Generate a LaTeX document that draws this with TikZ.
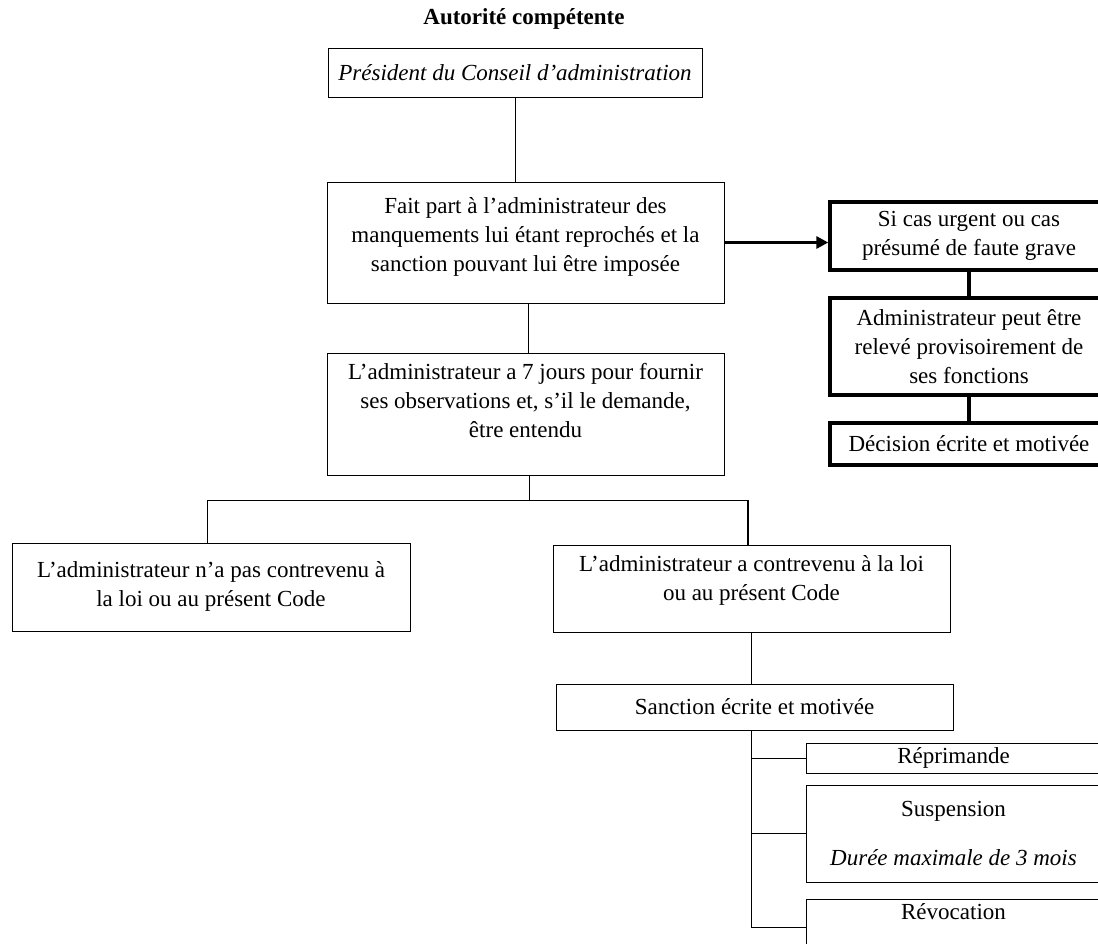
\documentclass[tikz,border=0pt]{standalone}
\usepackage{fontspec}
\setmainfont{Liberation Serif}
\usetikzlibrary{arrows.meta}
\tikzset{
  txt/.style={font=\fontsize{23}{29}\selectfont, align=center, inner sep=0pt},
  box/.style={draw, line width=1pt, inner sep=0pt, txt},
  tbox/.style={draw, line width=3.4pt, inner sep=0pt, txt},
  conn/.style={line width=1pt},
  tconn/.style={line width=3.2pt},
}
\begin{document}
\begin{tikzpicture}[x=1pt,y=-1pt]
\useasboundingbox (0,0) rectangle (1098,943);
% title
\node[txt, font=\fontsize{23}{29}\selectfont\bfseries] (title) at (524,19) {Autorité compétente};
% main column
\node[box, minimum width=374pt, minimum height=49pt, font=\fontsize{23}{29}\selectfont\itshape] (pres) at (515,72.5) {Président du Conseil d’administration};
\node[box, minimum width=397pt, minimum height=121pt] (b2) at (525.5,242.5) {};
\node[txt] (b2t) at (525.5,237) {Fait part à l’administrateur des\\manquements lui étant reprochés et la\\sanction pouvant lui être imposée};
\node[box, minimum width=397pt, minimum height=122pt] (b3) at (525.5,414) {};
\node[txt] (b3t) at (525.5,401) {L’administrateur a 7 jours pour fournir\\ses observations et, s’il le demande,\\être entendu};
\node[box, minimum width=398pt, minimum height=88pt] (bL) at (211,587) {};
\node[txt] (bLt) at (211,586) {L’administrateur n’a pas contrevenu à\\la loi ou au présent Code};
\node[box, minimum width=397pt, minimum height=87pt] (bR) at (751.5,588.5) {};
\node[txt] (bRt) at (751.5,580) {L’administrateur a contrevenu à la loi\\ou au présent Code};
\node[box, minimum width=397pt, minimum height=46pt] (sanc) at (754.5,707) {Sanction écrite et motivée};
\node[box, minimum width=300pt, minimum height=30pt] (rep) at (956,758) {};
\node[txt] (rept) at (953.5,758) {Réprimande};
\node[box, minimum width=300pt, minimum height=97pt] (sus) at (956,833.5) {};
\node[txt] (sust) at (953.5,833.5) {Suspension\\[20pt]\textit{Durée maximale de 3 mois}};
\node[box, minimum width=300pt, minimum height=62pt] (rev) at (956,930) {};
\node[txt] (revt) at (953.5,912) {Révocation};
% right column
\node[tbox, minimum width=278pt, minimum height=68pt] (urg) at (969,236) {Si cas urgent ou cas\\présumé de faute grave};
\node[tbox, minimum width=278pt, minimum height=97pt] (rel) at (969,346.5) {Administrateur peut être\\relevé provisoirement de\\ses fonctions};
\node[tbox, minimum width=278pt, minimum height=42pt] (dec) at (969,444) {Décision écrite et motivée};
% connectors
\draw[conn] (pres.south) -- (pres.south |- b2.north);
\draw[conn] (b2.south -| 528,0) -- (b3.north -| 528,0);
\coordinate (jn) at (529,500);
\coordinate (jl) at (207,500);
\coordinate (jr) at (748,500);
\draw[conn] (b3.south -| jn) -- (jn);
\draw[conn] (jl) -- (jr);
\draw[conn] (jl) -- (jl |- bL.north);
\draw[line width=1.8pt] (jr) -- (jr |- bR.north);
\draw[conn] (bR.south -| 751,0) -- (sanc.north -| 751,0);
\coordinate (tb) at (751,927);
\draw[conn] (sanc.south -| tb) -- (tb) -- (tb -| rev.west);
\draw[conn] (rep.west -| tb) -- (rep.west);
\draw[conn] (sus.west -| tb) -- (sus.west);
\draw[tconn, -{Triangle[length=12pt,width=12pt]}] (b2.east) -- (b2.east -| urg.west);
\draw[tconn] (urg.south) -- (rel.north);
\draw[tconn] (rel.south) -- (dec.north);
\end{tikzpicture}
\end{document}
